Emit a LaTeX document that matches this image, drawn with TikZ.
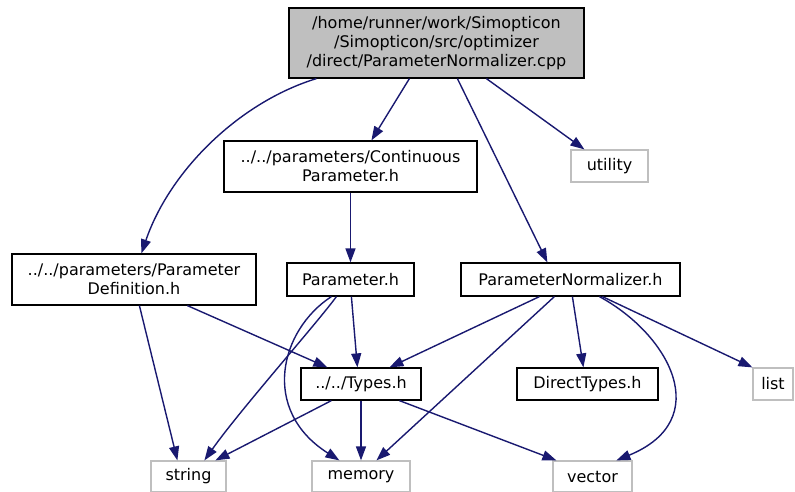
\documentclass[tikz,border=0pt]{standalone}
\usepackage{fontspec}
\setmainfont{DejaVu Sans}
\usetikzlibrary{arrows.meta}
\definecolor{edgec}{HTML}{191970}
\definecolor{extc}{HTML}{BFBFBF}
\begin{document}
\begin{tikzpicture}[x=1pt,y=-1pt,
  box/.style={draw=black, line width=1.2pt, inner sep=0pt, align=center, font=\fontsize{16}{19}\selectfont},
  ext/.style={box, draw=extc},
  edge/.style={draw=edgec, line width=1.4pt, -{Triangle[length=14pt,width=10pt]}}]
\useasboundingbox (0,0) rectangle (795,492);

\node[box, fill=extc, minimum width=295pt, minimum height=70pt] (root) at (436.5,43) {/home/runner/work/Simopticon\\/Simopticon/src/optimizer\\/direct/ParameterNormalizer.cpp};
\node[box, minimum width=253pt, minimum height=51pt] (cont) at (350.5,166.5) {../../parameters/Continuous\\Parameter.h};
\node[ext, minimum width=77pt, minimum height=32pt] (utility) at (609.5,166) {utility};
\node[box, minimum width=244pt, minimum height=51pt] (pdef) at (134,279.5) {../../parameters/Parameter\\Definition.h};
\node[box, minimum width=127pt, minimum height=33pt] (param) at (350.5,279.5) {Parameter.h};
\node[box, minimum width=219pt, minimum height=33pt] (pn) at (570.5,279.5) {ParameterNormalizer.h};
\node[box, minimum width=120pt, minimum height=32pt] (types) at (361,384) {../../Types.h};
\node[box, minimum width=141pt, minimum height=32pt] (direct) at (587.5,384) {DirectTypes.h};
\node[ext, minimum width=40pt, minimum height=32pt] (list) at (773,384) {list};
\node[ext, minimum width=75pt, minimum height=31pt] (string) at (188.5,476.5) {string};
\node[ext, minimum width=98pt, minimum height=31pt] (memory) at (361,476.5) {memory};
\node[ext, minimum width=79pt, minimum height=31pt] (vector) at (592.5,476.5) {vector};

% root edges
\draw[edge] ([xshift=28pt]root.south west) .. controls (240,102) and (170,170) .. ([xshift=130pt]pdef.north west);
\draw[edge] ([xshift=121pt]root.south west) -- ([xshift=148pt]cont.north west);
\draw[edge] ([xshift=169pt]root.south west) -- ([xshift=87pt]pn.north west);
\draw[edge] ([xshift=198pt]root.south west) -- ([xshift=14pt]utility.north west);
% continuous
\draw[edge] (cont.south) -- (param.north);
% parameter definition
\draw[edge] ([xshift=128pt]pdef.south west) -- ([xshift=27pt]string.north west);
\draw[edge] ([xshift=176pt]pdef.south west) -- ([xshift=27pt]types.north west);
% parameter.h
\draw[edge] ([xshift=65pt]param.south west) -- ([xshift=57pt]types.north west);
\draw[edge] ([xshift=50pt]param.south west) .. controls (318,322) and (240,410) .. ([xshift=54pt]string.north west);
\draw[edge] ([xshift=45pt]param.south west) .. controls (280,330) and (260,410) .. ([xshift=28pt]memory.north west);
% parameter normalizer
\draw[edge] ([xshift=79pt]pn.south west) -- ([xshift=89pt]types.north west);
\draw[edge] ([xshift=94pt]pn.south west) -- ([xshift=65pt]memory.north west);
\draw[edge] ([xshift=112pt]pn.south west) -- ([xshift=67pt]direct.north west);
\draw[edge] ([xshift=139pt]pn.south west) .. controls (670,335) and (715,420) .. ([xshift=64pt]vector.north west);
\draw[edge] ([xshift=142pt]pn.south west) -- (list.north west);
% types
\draw[edge] ([xshift=31pt]types.south west) -- ([xshift=65pt]string.north west);
\draw[edge] (types.south) -- (memory.north);
\draw[edge] ([xshift=99pt]types.south west) -- ([xshift=4pt]vector.north west);
\end{tikzpicture}
\end{document}
